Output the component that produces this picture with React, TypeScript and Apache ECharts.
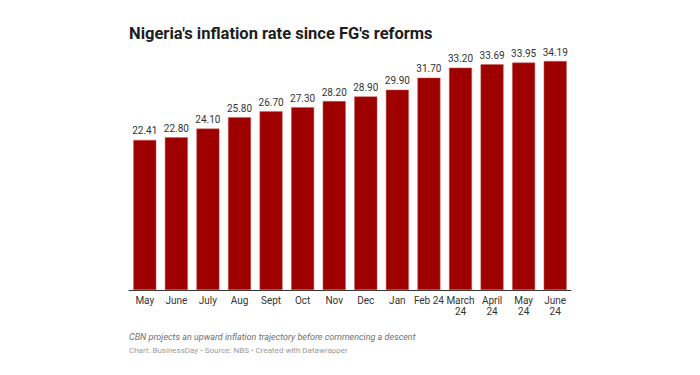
import React, { useEffect, useRef } from "react";
import * as echarts from "echarts";

const categories = ["May", "June", "July", "Aug", "Sept", "Oct", "Nov", "Dec", "Jan", "Feb 24", "March\n24", "April\n24", "May\n24", "June\n24"];
const values = [22.41, 22.8, 24.1, 25.8, 26.7, 27.3, 28.2, 28.9, 29.9, 31.7, 33.2, 33.69, 33.95, 34.19];
const title = "Nigeria's inflation rate since FG's reforms";
const subtitle = "CBN projects an upward inflation trajectory before commencing a descent";
const credits = "Chart: BusinessDay • Source: NBS • Created with Datawrapper";

export default function App() {
  const ref = useRef<HTMLDivElement>(null);
  useEffect(() => {
    if (!ref.current) return;
    const chart = echarts.init(ref.current, null, { renderer: "svg" });
    chart.setOption({
      animation: false,
      backgroundColor: "#ffffff",
      textStyle: { fontFamily: "Roboto" },
      title: {
        text: title,
        left: 124,
        top: 20,
        textStyle: { fontFamily: "Roboto", fontWeight: "bold", fontSize: 16.5, color: "#1d1d1d" },
      },
      graphic: [
        {
          type: "text",
          left: 129,
          top: 332,
          style: { text: subtitle, font: "italic 9px Roboto", fill: "#707070" },
        },
        {
          type: "text",
          left: 129,
          top: 346,
          style: { text: credits, font: "8px Roboto", fill: "#9a9a9a" },
        },
      ],
      grid: { left: 129, width: 442, top: 61, height: 229, containLabel: false },
      xAxis: {
        type: "category",
        data: categories,
        axisLine: { lineStyle: { color: "#333333", width: 1 } },
        axisTick: { show: false },
        axisLabel: { color: "#333333", fontSize: 10, margin: 5, lineHeight: 11, interval: 0 },
      },
      yAxis: {
        type: "value",
        min: 0,
        max: 34.19,
        show: false,
        splitLine: { show: false },
      },
      series: [
        {
          type: "bar",
          data: values,
          barWidth: 23,
          itemStyle: { color: "#9e0000", borderColor: "#c86060", borderWidth: 0.5 },
          label: {
            show: true,
            position: "top",
            distance: 4,
            color: "#333333",
            fontSize: 10,
            formatter: (p: any) => p.value.toFixed(2),
          },
        },
      ],
    });
    return () => chart.dispose();
  }, []);
  return <div ref={ref} style={{ position: "fixed", left: 0, top: 0, width: 700, height: 375 }} />;
}
